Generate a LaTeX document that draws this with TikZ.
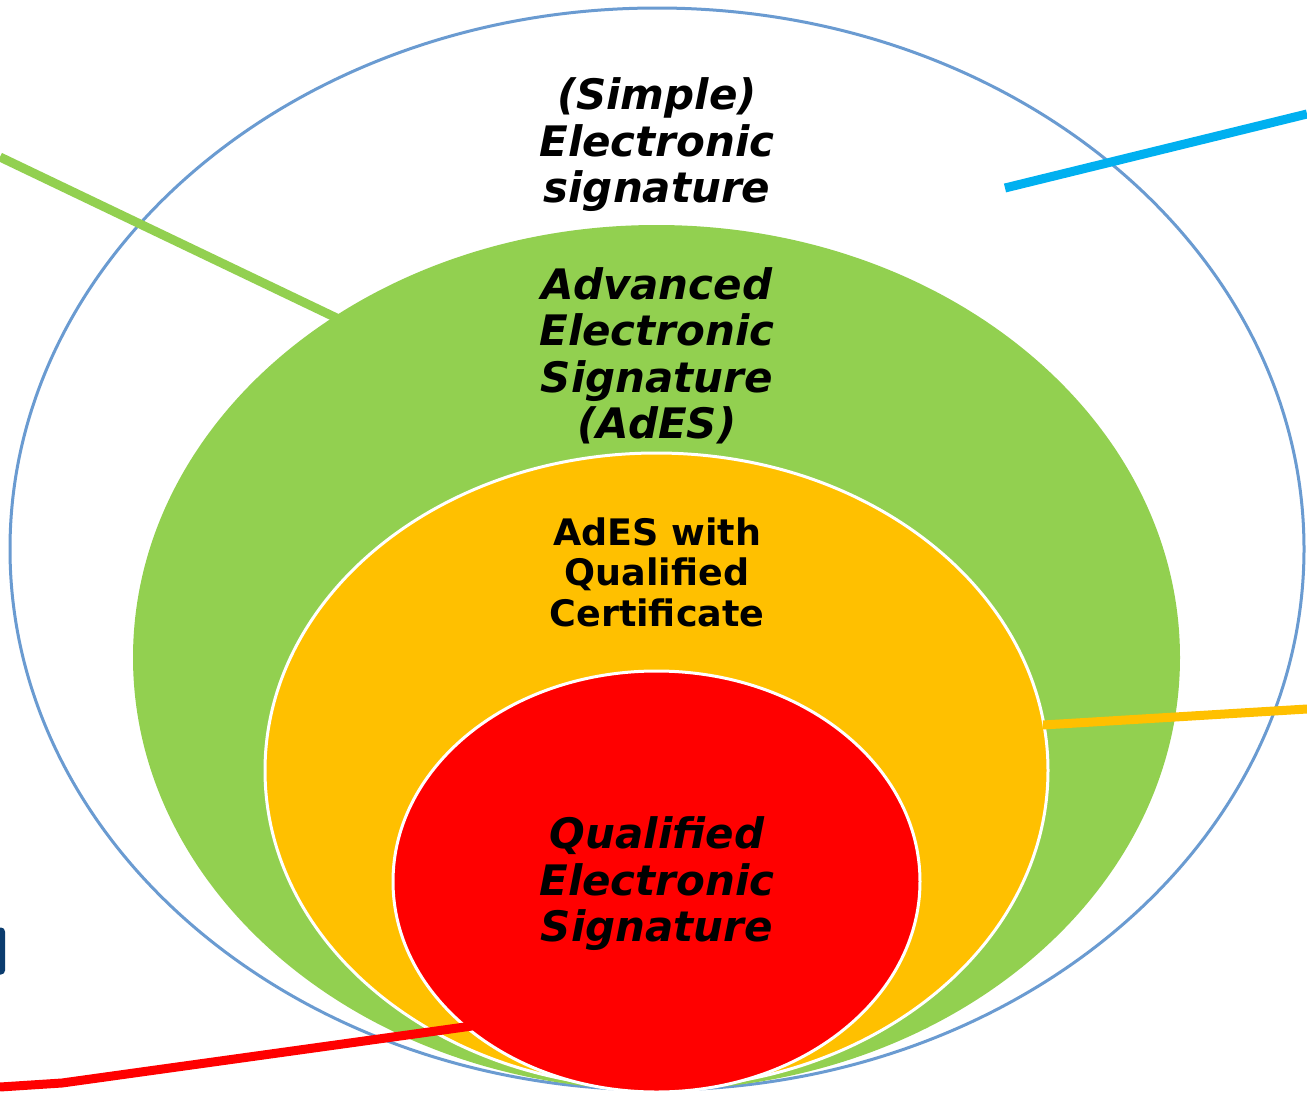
\documentclass[tikz,border=0pt]{standalone}
\usepackage{fontspec}
\setmainfont{DejaVu Sans}
\usetikzlibrary{shapes.geometric}
\definecolor{outerblue}{HTML}{6A9BD1}
\definecolor{sgreen}{HTML}{92D050}
\definecolor{sorange}{HTML}{FFC000}
\definecolor{sred}{HTML}{FF0000}
\definecolor{sblue}{HTML}{00B0F0}
\definecolor{navy}{HTML}{0B3C6E}
\tikzset{
  ring/.style={ellipse, inner sep=0pt, outer sep=0pt},
  lbl/.style={align=center, text=black, inner sep=0pt},
  bigtxt/.style={lbl, font=\fontsize{42}{46.5}\selectfont\bfseries\itshape},
  midtxt/.style={lbl, font=\fontsize{36.5}{40.5}\selectfont\bfseries},
  leader/.style={line width=9pt, line cap=butt},
}
\begin{document}
\begin{tikzpicture}[x=1pt,y=-1pt]
\useasboundingbox (0,0) rectangle (1307,1095);
\fill[white] (0,0) rectangle (1307,1095);
% outer ellipse
\node[ring, draw=outerblue, line width=3pt, fill=white, minimum width=1294pt, minimum height=1082pt] (outer) at (657,549) {};
% dark blue tab at left edge
\node[fill=navy, rounded corners=4pt, minimum width=14pt, minimum height=47pt, inner sep=0pt] (tab) at (-2,951) {};
% green leader (behind green ellipse)
\coordinate (gEnd) at (0,157);
\coordinate (gIn) at (345,322);
\draw[leader, sgreen] (gEnd) -- (gIn);
% blue leader
\coordinate (bA) at (1005,188);
\coordinate (bB) at (1307,114);
\draw[leader, sblue] (bA) -- (bB);
% green ellipse
\node[ring, fill=sgreen, minimum width=1047pt, minimum height=865pt] (green) at (656.5,657.5) {};
% orange ellipse
\node[ring, fill=sorange, draw=white, line width=3pt, minimum width=783pt, minimum height=635pt] (orange) at (656.5,770.5) {};
% red ellipse
\node[ring, fill=sred, draw=white, line width=3pt, minimum width=527pt, minimum height=421pt] (red) at (656.5,881.5) {};
% orange leader
\coordinate (oA) at (1043,725);
\coordinate (oB) at (1307,709);
\draw[leader, sorange] (oA) -- (oB);
% red leader
\coordinate (rA) at (0,1087);
\coordinate (rK) at (62,1083);
\coordinate (rB) at (472,1026);
\draw[leader, sred] (rA) -- (rK) -- (rB);
% texts
\node[bigtxt] (t1) at (657,145) {(Simple)\\Electronic\\signature};
\node[bigtxt] (t2) at (657,356) {Advanced\\Electronic\\Signature\\(AdES)};
\node[midtxt] (t3) at (657,572) {AdES with\\Qualified\\Certificate};
\node[bigtxt] (t4) at (657,884) {Qualified\\Electronic\\Signature};
\end{tikzpicture}
\end{document}
